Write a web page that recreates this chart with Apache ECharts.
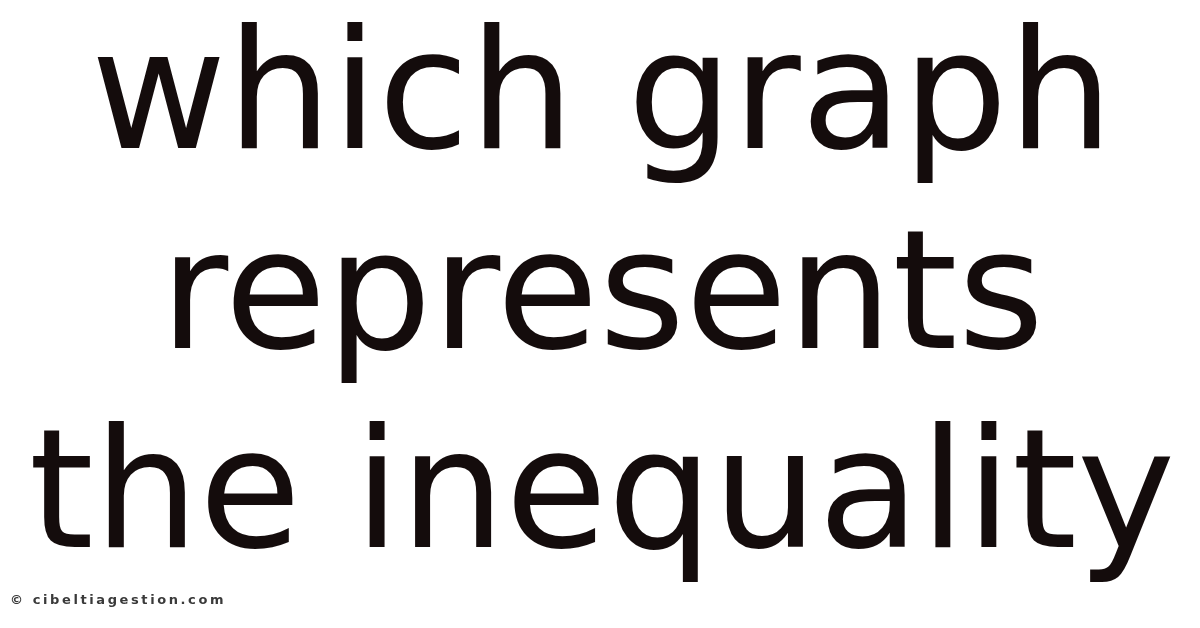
<!DOCTYPE html>
<html>
<head>
<meta charset="utf-8">
<title>which graph represents the inequality</title>
<script src="https://cdn.jsdelivr.net/npm/echarts@6/dist/echarts.min.js"></script>
<style>
  html, body { margin: 0; padding: 0; background: #fff; }
  #main { width: 1200px; height: 628px; }
</style>
</head>
<body>
<div id="main"></div>
<script>
// 标题的三行文字
const titleLines = ['which graph', 'represents', 'the inequality']
// 每行的中线位置
const lineY = [105, 305, 504]
// 底部版权
const footerText = '© cibeltiagestion.com'

const myChart = echarts.init(document.querySelector('#main'))

const option = {
  backgroundColor: '#ffffff',
  graphic: [
    ...titleLines.map((txt, i) => ({
      type: 'text',
      x: 602,
      y: lineY[i],
      style: {
        text: txt,
        font: '166px "DejaVu Sans"',
        fill: '#140c0c',
        align: 'center',
        verticalAlign: 'middle'
      }
    })),
    {
      type: 'text',
      x: 10,
      y: 601,
      style: {
        // 字间距用细空格拉开
        text: footerText.split('').join('\u2009'),
        font: 'bold 13px "DejaVu Sans"',
        fill: '#3a3a3a',
        align: 'left',
        verticalAlign: 'middle'
      }
    }
  ]
}

myChart.setOption(option)
</script>
</body>
</html>
